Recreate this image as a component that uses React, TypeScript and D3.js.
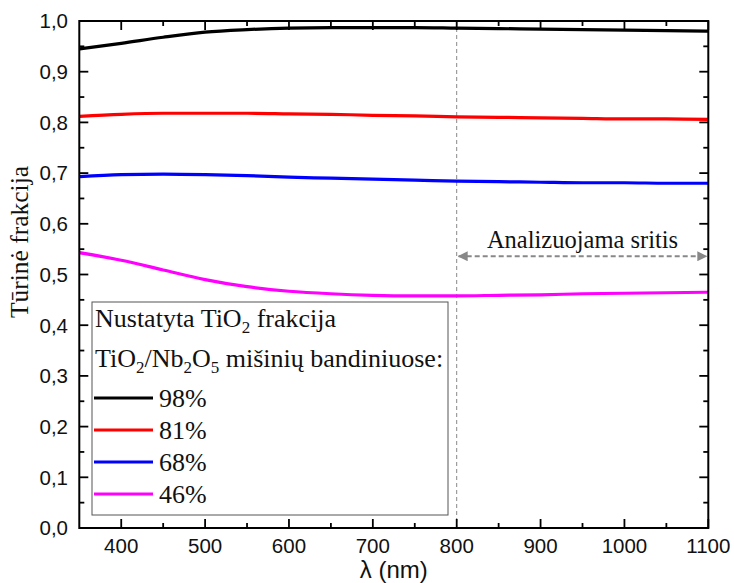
import React from "react";
import * as d3 from "d3";

const wavelengths = [350, 400, 450, 500, 550, 600, 650, 700, 750, 800, 850, 900, 950, 1000, 1050, 1100];
const s98 = [0.945, 0.956, 0.968, 0.978, 0.983, 0.986, 0.987, 0.987, 0.987, 0.986, 0.985, 0.984, 0.983, 0.982, 0.981, 0.980];
const s81 = [0.812, 0.816, 0.818, 0.818, 0.818, 0.817, 0.816, 0.814, 0.813, 0.811, 0.810, 0.809, 0.808, 0.807, 0.807, 0.806];
const s68 = [0.693, 0.697, 0.698, 0.697, 0.695, 0.692, 0.690, 0.688, 0.686, 0.684, 0.683, 0.682, 0.681, 0.681, 0.680, 0.680];
const s46 = [0.543, 0.528, 0.509, 0.490, 0.476, 0.467, 0.462, 0.459, 0.458, 0.458, 0.459, 0.460, 0.462, 0.463, 0.464, 0.465];

const seriesNames = ["98%", "81%", "68%", "46%"];
const seriesColors = ["#000000", "#ff0000", "#0000ff", "#ff00ff"];
const seriesValues = [s98, s81, s68, s46];

const xMajorTicks = [400, 500, 600, 700, 800, 900, 1000, 1100];
const xMinorTicks = [450, 550, 650, 750, 850, 950, 1050];
const yMajorTicks = [0, 0.1, 0.2, 0.3, 0.4, 0.5, 0.6, 0.7, 0.8, 0.9, 1.0];
const yMinorTicks = [0.05, 0.15, 0.25, 0.35, 0.45, 0.55, 0.65, 0.75, 0.85, 0.95];

const regionStart = 800;
const regionEnd = 1100;
const regionArrowY = 0.536;

export default function App() {
  const W = 734, H = 583;
  const left = 79.3, right = 708.3, top = 21, bottom = 528;
  const x = d3.scaleLinear().domain([350, 1100]).range([left, right]);
  const y = d3.scaleLinear().domain([0, 1]).range([bottom, top]);
  const line = d3
    .line<number>()
    .x((_, i) => x(wavelengths[i]))
    .y((d) => y(d))
    .curve(d3.curveMonotoneX);

  const fmt = (v: number) => v.toFixed(1).replace(".", ",");
  const sans = "'Liberation Sans', Arial, sans-serif";
  const serif = "'Liberation Serif', 'Times New Roman', serif";
  const major = 9, minor = 5;

  const legendX = 92, legendY = 302, legendW = 356, legendH = 213;
  const entryBaselines = [407, 439, 471, 503];
  const lf = 26, sf = 17;

  return (
    <svg width={W} height={H} style={{ position: "absolute", left: 0, top: 0, background: "#fff" }}>
      <defs>
        <marker id="arr" viewBox="0 0 10 10" refX="9" refY="5" markerWidth="5" markerHeight="5" orient="auto-start-reverse">
          <path d="M0,0 L10,5 L0,10 z" fill="#888" />
        </marker>
      </defs>

      {/* region marker */}
      <line x1={x(regionStart)} x2={x(regionStart)} y1={top} y2={bottom} stroke="#888" strokeWidth={1} strokeDasharray="4,3" />
      <line
        x1={x(regionStart) + 2}
        x2={x(regionEnd) - 2}
        y1={y(regionArrowY)}
        y2={y(regionArrowY)}
        stroke="#888"
        strokeWidth={2}
        strokeDasharray="5,3"
        markerStart="url(#arr)"
        markerEnd="url(#arr)"
      />
      <text x={x(950)} y={y(regionArrowY) - 8} textAnchor="middle" fontFamily={serif} fontSize={24.5} fill="#111">
        Analizuojama sritis
      </text>

      {/* curves */}
      {seriesValues.map((vals, i) => (
        <path key={i} d={line(vals) || ""} fill="none" stroke={seriesColors[i]} strokeWidth={3.2} />
      ))}

      {/* frame */}
      <rect x={left} y={top} width={right - left} height={bottom - top} fill="none" stroke="#000" strokeWidth={2} />

      {/* x ticks */}
      {xMajorTicks.map((t) => (
        <g key={"xM" + t}>
          <line x1={x(t)} x2={x(t)} y1={bottom} y2={bottom - major} stroke="#000" strokeWidth={1.8} />
          <line x1={x(t)} x2={x(t)} y1={top} y2={top + major} stroke="#000" strokeWidth={1.8} />
          <text x={x(t)} y={553} textAnchor="middle" fontFamily={sans} fontSize={20.5} fill="#111">
            {t}
          </text>
        </g>
      ))}
      {xMinorTicks.map((t) => (
        <g key={"xm" + t}>
          <line x1={x(t)} x2={x(t)} y1={bottom} y2={bottom - minor} stroke="#000" strokeWidth={1.8} />
          <line x1={x(t)} x2={x(t)} y1={top} y2={top + minor} stroke="#000" strokeWidth={1.8} />
        </g>
      ))}

      {/* y ticks */}
      {yMajorTicks.map((t) => (
        <g key={"yM" + t}>
          <line x1={left} x2={left + major} y1={y(t)} y2={y(t)} stroke="#000" strokeWidth={1.8} />
          <line x1={right} x2={right - major} y1={y(t)} y2={y(t)} stroke="#000" strokeWidth={1.8} />
          <text x={68} y={y(t)} dy="0.36em" textAnchor="end" fontFamily={sans} fontSize={20.5} fill="#111">
            {fmt(t)}
          </text>
        </g>
      ))}
      {yMinorTicks.map((t) => (
        <g key={"ym" + t}>
          <line x1={left} x2={left + minor} y1={y(t)} y2={y(t)} stroke="#000" strokeWidth={1.8} />
          <line x1={right} x2={right - minor} y1={y(t)} y2={y(t)} stroke="#000" strokeWidth={1.8} />
        </g>
      ))}

      {/* axis titles */}
      <text x={(left + right) / 2} y={578} textAnchor="middle" fontFamily={sans} fontSize={24} fill="#111">
        λ (nm)
      </text>
      <text transform="translate(28,242) rotate(-90)" textAnchor="middle" fontFamily={serif} fontSize={25.5} fill="#111">
        Tūrinė frakcija
      </text>

      {/* legend */}
      <rect x={legendX} y={legendY} width={legendW} height={legendH} fill="#fff" stroke="#555" strokeWidth={1} />
      <text x={95} y={327} fontFamily={serif} fontSize={lf} fill="#111">
        Nustatyta TiO<tspan fontSize={sf} dy={6}>2</tspan>
        <tspan dy={-6}> frakcija</tspan>
      </text>
      <text x={95} y={367} fontFamily={serif} fontSize={lf} fill="#111">
        TiO<tspan fontSize={sf} dy={6}>2</tspan>
        <tspan dy={-6}>/Nb</tspan>
        <tspan fontSize={sf} dy={6}>2</tspan>
        <tspan dy={-6}>O</tspan>
        <tspan fontSize={sf} dy={6}>5</tspan>
        <tspan dy={-6}> mišinių bandiniuose:</tspan>
      </text>
      {seriesNames.map((name, i) => (
        <g key={name}>
          <line x1={94} x2={153} y1={entryBaselines[i] - 9} y2={entryBaselines[i] - 9} stroke={seriesColors[i]} strokeWidth={3.2} />
          <text x={159} y={entryBaselines[i]} fontFamily={serif} fontSize={lf} fill="#111">
            {name}
          </text>
        </g>
      ))}
    </svg>
  );
}
